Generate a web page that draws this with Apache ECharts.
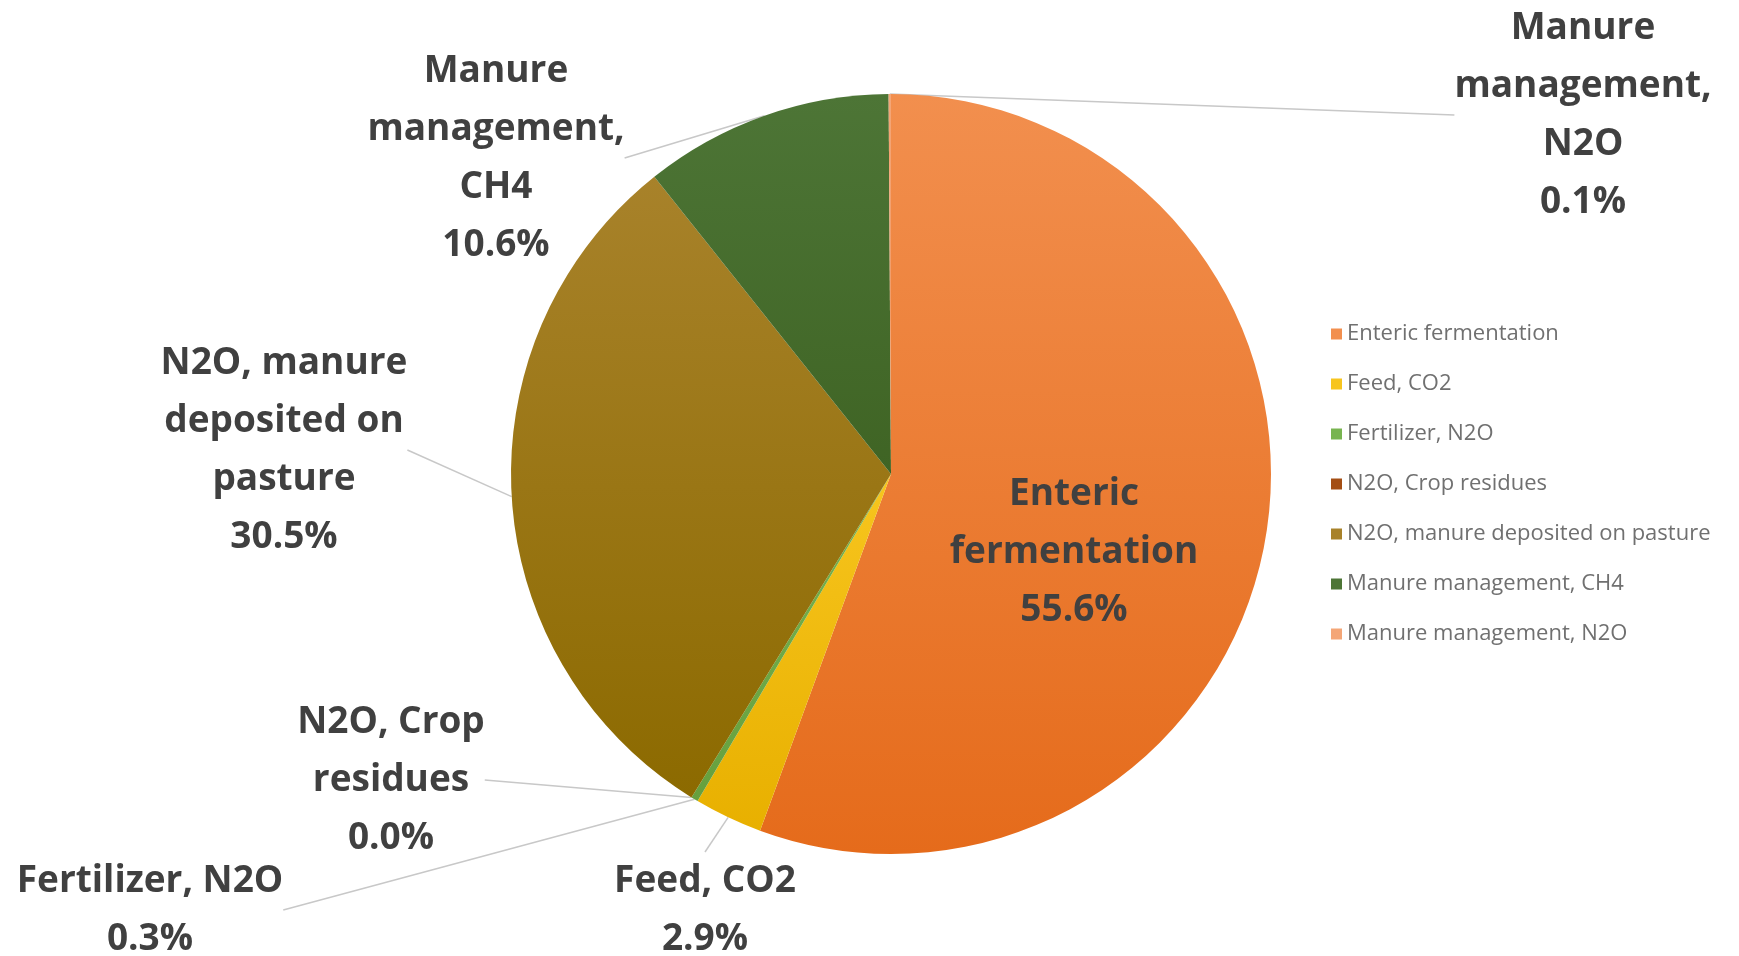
<!DOCTYPE html>
<html>
<head>
<meta charset="utf-8">
<script src="https://cdn.jsdelivr.net/npm/echarts@6/dist/echarts.min.js"></script>
<style>
  html, body { margin: 0; padding: 0; background: #ffffff; }
  #chart { width: 1739px; height: 956px; }
</style>
</head>
<body>
<div id="chart"></div>
<script>
// Emission sources (share of total, %)
const categories = [
  'Enteric fermentation',
  'Feed, CO2',
  'Fertilizer, N2O',
  'N2O, Crop residues',
  'N2O, manure deposited on pasture',
  'Manure management, CH4',
  'Manure management, N2O'
];
const shares = [55.6, 2.9, 0.3, 0.0, 30.5, 10.6, 0.1];

// Wrapped label text for each slice
const labelNames = [
  'Enteric\nfermentation',
  'Feed, CO2',
  'Fertilizer, N2O',
  'N2O, Crop\nresidues',
  'N2O, manure\ndeposited on\npasture',
  'Manure\nmanagement,\nCH4',
  'Manure\nmanagement,\nN2O'
];

// Slice fills: [top, bottom] of a soft vertical gradient
const sliceColors = [
  ['#F28F4E', '#E56B1B'],
  ['#F7C51E', '#E8B000'],
  ['#78B450', '#66A03E'],
  ['#A44E14', '#93420C'],
  ['#A8822A', '#8C6A00'],
  ['#4D7536', '#3F6424'],
  ['#F4A677', '#EE9560']
];

// Label centre positions (px) and whether a leader line is drawn
const labelSpots = [
  [1074, 552], [705, 910], [150, 910], [391, 780],
  [284, 450], [496, 158], [1583, 115]
];
const showLeader = [false, true, true, true, true, true, true];

const chart = echarts.init(document.getElementById('chart'), null, { renderer: 'canvas' });

const data = categories.map((name, i) => ({
  name: name,
  value: shares[i],
  itemStyle: {
    color: {
      type: 'linear', x: 0, y: 0, x2: 0, y2: 1,
      colorStops: [
        { offset: 0, color: sliceColors[i][0] },
        { offset: 1, color: sliceColors[i][1] }
      ]
    }
  },
  labelLine: { show: showLeader[i] },
  label: i === 0 ? { position: 'inside' } : {}
}));

chart.setOption({
  backgroundColor: '#ffffff',
  animation: false,
  legend: {
    orient: 'vertical',
    left: 1326,
    top: 318,
    itemWidth: 11,
    itemHeight: 11,
    itemGap: 28,
    icon: 'rect',
    textStyle: {
      fontFamily: 'Open Sans',
      fontSize: 22,
      color: '#707070',
      padding: [0, 0, 0, 0]
    },
    data: categories.map((name, i) => ({ name: name, itemStyle: { color: sliceColors[i][0] } }))
  },
  series: [{
    type: 'pie',
    center: [891, 474],
    radius: ['0%', 380],
    startAngle: 90,
    clockwise: true,
    avoidLabelOverlap: false,
    itemStyle: { borderWidth: 0 },
    label: {
      show: true,
      position: 'outside',
      fontFamily: 'Open Sans',
      fontWeight: 'bold',
      fontSize: 37,
      lineHeight: 58,
      color: '#404040',
      align: 'center',
      formatter: function (p) {
        return labelNames[p.dataIndex] + '\n' + shares[p.dataIndex].toFixed(1) + '%';
      }
    },
    labelLine: {
      show: true,
      length: 0,
      length2: 0,
      lineStyle: { color: '#C8C8C8', width: 1.5 }
    },
    labelLayout: function (params) {
      const s = labelSpots[params.dataIndex];
      return {
        x: s[0],
        y: s[1],
        align: 'center',
        verticalAlign: 'middle'
      };
    },
    data: data
  }]
});
</script>
</body>
</html>
